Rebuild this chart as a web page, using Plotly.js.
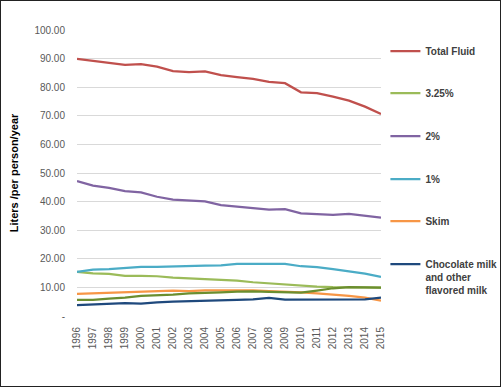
<!DOCTYPE html>
<html>
<head>
<meta charset="utf-8">
<script src="https://cdn.plot.ly/plotly-3.0.1.min.js"></script>
<style>
html,body{margin:0;padding:0;background:#fff;}
#frame{width:501px;height:387px;box-sizing:border-box;border:1px solid #222;position:relative;overflow:hidden;}
#chart{position:absolute;left:-1px;top:-1px;width:501px;height:387px;}
</style>
</head>
<body>
<div id="frame"><div id="chart"></div></div>
<script>
const years = ['1996','1997','1998','1999','2000','2001','2002','2003','2004','2005','2006','2007','2008','2009','2010','2011','2012','2013','2014','2015'];
const totalFluid = [89.9,89.2,88.6,87.8,88.1,87.2,85.6,85.3,85.5,84.2,83.5,82.9,81.9,81.4,78.2,77.9,76.7,75.3,73.2,70.6];
const whole325 = [15.4,14.9,14.7,14.0,14.0,13.9,13.4,13.2,13.0,12.6,12.4,11.8,11.4,11.1,10.5,10.3,10.1,10.0,10.0,9.9];
const twoPct = [47.2,45.6,44.8,43.7,43.2,41.7,40.7,40.3,40.1,38.8,38.3,37.9,37.2,37.4,35.9,35.6,35.4,35.7,35.0,34.4];
const onePct = [15.4,16.2,16.4,16.7,17.2,17.2,17.4,17.5,17.6,17.7,18.2,18.2,18.2,18.2,17.4,17.1,16.4,15.7,14.8,13.7];
const skim = [7.7,7.9,8.2,8.4,8.5,8.7,8.9,8.7,9.0,9.0,9.0,9.0,8.7,8.6,8.3,7.9,7.5,7.0,6.4,5.4];
const otherGreen = [5.6,5.6,6.1,6.4,7.0,7.2,7.5,7.9,8.2,8.3,8.5,8.6,8.4,8.3,8.2,8.9,9.7,10.1,10.1,9.9];
const chocolate = [3.8,4.1,4.2,4.5,4.3,4.8,5.0,5.1,5.3,5.4,5.6,5.8,6.3,5.7,5.7,5.9,5.8,5.7,5.8,6.4];
const yTickVals = [0,10,20,30,40,50,60,70,80,90,100];
const yTickText = ['-','10.00','20.00','30.00','40.00','50.00','60.00','70.00','80.00','90.00','100.00'];

const series = [
  {name:'Total Fluid', y: totalFluid, color:'#C0504D', legend:'legend'},
  {name:'3.25%', y: whole325, color:'#9BBB59', legend:'legend2'},
  {name:'2%', y: twoPct, color:'#8064A2', legend:'legend3'},
  {name:'1%', y: onePct, color:'#4BACC6', legend:'legend4'},
  {name:'Skim', y: skim, color:'#F79646', legend:'legend5'},
  {name:'Other', y: otherGreen, color:'#6B8E2F', legend:null},
  {name:'Chocolate milk<br>and other<br>flavored milk', y: chocolate, color:'#1F497D', legend:'legend6'}
];

const traces = series.map(s => {
  const t = {x: years, y: s.y, name: s.name, type:'scatter', mode:'lines',
    line:{color:s.color, width:2.25}, hoverinfo:'skip'};
  if (s.legend) { t.legend = s.legend; t.showlegend = true; } else { t.showlegend = false; }
  return t;
});

const legFont = {family:'Liberation Sans, Arial, sans-serif', size:10, color:'#404040', weight:'bold'};
const legYpx = [51, 93, 136, 179, 221, 251];
const plotTop = 30, plotBottom = 316;
function py(px){ return (plotBottom - px)/(plotBottom - plotTop); }
const layout = {
  width:501, height:387,
  margin:{l:77, r:120, t:30, b:71, autoexpand:false},
  paper_bgcolor:'#ffffff', plot_bgcolor:'#ffffff',
  showlegend:true,
  xaxis:{type:'category', showgrid:false, showline:false, zeroline:false, ticks:'', automargin:false,
    tickangle:-90, ticklabelstandoff:8, tickfont:{family:'Liberation Sans, Arial, sans-serif', size:10, color:'#595959'}},
  yaxis:{range:[0,100], tickvals:yTickVals, ticktext:yTickText, showgrid:true, gridcolor:'#D9D9D9', gridwidth:1,
    zeroline:false, showline:false, ticks:'', ticklabelstandoff:11, automargin:false,
    tickfont:{family:'Liberation Sans, Arial, sans-serif', size:10, color:'#595959'},
    title:{text:'Liters /per person/year', font:{family:'Liberation Sans, Arial, sans-serif', size:11, color:'#000', weight:'bold'}, standoff:13}}
};
const legNames = ['legend','legend2','legend3','legend4','legend5','legend6'];
legNames.forEach((ln,i)=>{
  layout[ln] = {x:0.0145, xanchor:'left', xref:'paper', y: py(legYpx[i]), yanchor: i===5 ? 'top':'middle',
    bgcolor:'rgba(0,0,0,0)', font:legFont, itemwidth:30, borderwidth:0, valign: i===5 ? 'top':'middle'};
});
// shift legends to the right of the plot area
legNames.forEach(ln=>{ layout[ln].x = 1 + layout[ln].x; });
Plotly.newPlot('chart', traces, layout, {displayModeBar:false, staticPlot:true});
</script>
</body>
</html>
